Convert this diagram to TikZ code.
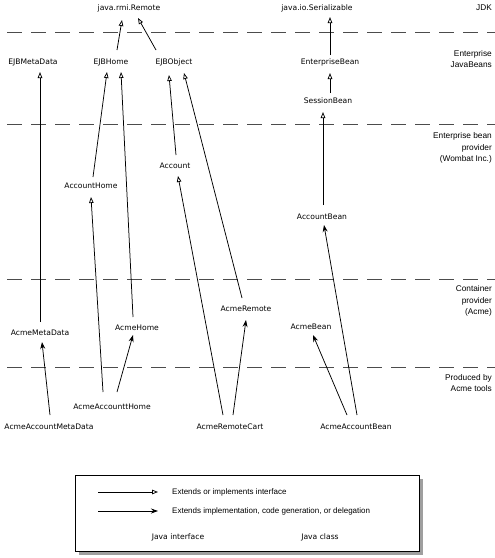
\documentclass[tikz,border=0pt]{standalone}
\usepackage{fontspec}
\setmainfont{Liberation Sans}
\newfontfamily\nodefont{DejaVu Sans}
\usetikzlibrary{arrows.meta}
\begin{document}
\begin{tikzpicture}[x=1pt,y=-1pt,
  cls/.style={font=\nodefont\fontsize{7.6}{9}\selectfont, inner sep=1pt},
  region/.style={font=\fontsize{8.3}{11.5}\selectfont, align=right, anchor=east, inner sep=0pt},
  legtext/.style={font=\fontsize{8}{10}\selectfont, anchor=west, inner sep=0pt},
  sep/.style={gray!60!black, line width=0.9pt, dash pattern=on 15pt off 9pt},
  iface/.style={line width=0.75pt, -{Triangle[open, length=6pt, width=4.5pt]}},
  impl/.style={line width=0.75pt, -{Stealth[length=7pt, width=5pt]}}]
\useasboundingbox (0,0) rectangle (495,558);
% separators
\coordinate (s1a) at (7,32);  \coordinate (s1b) at (495,32);
\coordinate (s2a) at (7,124); \coordinate (s2b) at (495,124);
\coordinate (s3a) at (7,279); \coordinate (s3b) at (495,279);
\coordinate (s4a) at (7,367); \coordinate (s4b) at (495,367);
\draw[sep] (s1a) -- (s1b);
\draw[sep] (s2a) -- (s2b);
\draw[sep] (s3a) -- (s3b);
\draw[sep] (s4a) -- (s4b);
% region labels
\node[region] (rjdk) at (492,8) {JDK};
\node[region] (rejb) at (492,59) {Enterprise\\JavaBeans};
\node[region] (rprov) at (492,148) {Enterprise bean\\provider\\(Wombat Inc.)};
\node[region] (rcont) at (492,301) {Container\\provider\\(Acme)};
\node[region] (rtools) at (492,383) {Produced by\\Acme tools};
% class nodes
\node[cls] (remote) at (129,8) {java.rmi.Remote};
\node[cls] (serial) at (317,8) {java.io.Serializable};
\node[cls] (ejbmeta) at (33,62) {EJBMetaData};
\node[cls] (ejbhome) at (111,62) {EJBHome};
\node[cls] (ejbobject) at (174,62) {EJBObject};
\node[cls] (entbean) at (330,62) {EnterpriseBean};
\node[cls] (sessbean) at (328,101) {SessionBean};
\node[cls] (accthome) at (91,186) {AccountHome};
\node[cls] (account) at (175,166) {Account};
\node[cls] (acctbean) at (322,217) {AccountBean};
\node[cls] (acmemeta) at (40,333) {AcmeMetaData};
\node[cls] (acmehome) at (137,328) {AcmeHome};
\node[cls] (acmeremote) at (246,309) {AcmeRemote};
\node[cls] (acmebean) at (311,327) {AcmeBean};
\node[cls] (acmeacchome) at (112,407) {AcmeAccounttHome};
\node[cls] (acmeaccmeta) at (49,427) {AcmeAccountMetaData};
\node[cls] (acmecart) at (230,427) {AcmeRemoteCart};
\node[cls] (acmeaccbean) at (356,427) {AcmeAccountBean};
% interface arrows
\draw[iface] ([xshift=6pt,yshift=12pt]ejbhome.center) -- ([xshift=-7pt,yshift=-12pt]remote.center);
\draw[iface] ([xshift=-18pt,yshift=12pt]ejbobject.center) -- ([xshift=9pt,yshift=-10pt]remote.center);
\draw[iface] ([yshift=7pt]entbean.center) -- ([xshift=13pt,yshift=-9pt]serial.center);
\draw[iface] ([xshift=2pt,yshift=8pt]sessbean.center) -- ([yshift=-11pt]entbean.center);
\draw[iface] ([xshift=1pt,yshift=12pt]acctbean.center) -- ([xshift=-5pt,yshift=-11pt]sessbean.center);
\draw[iface] ([yshift=11pt]acmemeta.center) -- ([xshift=7pt,yshift=-10pt]ejbmeta.center);
\draw[iface] ([xshift=2pt,yshift=9pt]accthome.center) -- ([xshift=-4pt,yshift=-10pt]ejbhome.center);
\draw[iface] ([xshift=-4pt,yshift=11pt]acmehome.center) -- ([xshift=10pt,yshift=-10pt]ejbhome.center);
\draw[iface] ([xshift=-9pt,yshift=15pt]acmeacchome.center) -- ([yshift=-11pt]accthome.center);
\draw[iface] ([xshift=1pt,yshift=11pt]account.center) -- ([xshift=-5pt,yshift=-13pt]ejbobject.center);
\draw[iface] ([xshift=-4pt,yshift=11pt]acmeremote.center) -- ([xshift=10pt,yshift=-11pt]ejbobject.center);
\draw[iface] ([xshift=-7pt,yshift=12pt]acmecart.center) -- ([xshift=3pt,yshift=-10pt]account.center);
% implementation arrows
\draw[impl] ([xshift=5pt,yshift=15pt]acmeacchome.center) -- ([xshift=-4pt,yshift=-7pt]acmehome.center);
\draw[impl] ([xshift=3pt,yshift=12pt]acmecart.center) -- ([yshift=-11pt]acmeremote.center);
\draw[impl] ([xshift=-9pt,yshift=12pt]acmeaccbean.center) -- ([xshift=2pt,yshift=-8pt]acmebean.center);
\draw[impl] ([xshift=1pt,yshift=12pt]acmeaccbean.center) -- ([xshift=2pt,yshift=-8pt]acctbean.center);
\draw[impl] ([xshift=1pt,yshift=12pt]acmeaccmeta.center) -- ([xshift=2pt,yshift=-9pt]acmemeta.center);
% legend
\fill[gray!75] (79,479) rectangle (423,555);
\node[draw, fill=white, line width=0.8pt, minimum width=344pt, minimum height=76pt, inner sep=0pt, anchor=north west] (legend) at (75,475) {};
\coordinate (l1a) at (98,492); \coordinate (l1b) at (158,492);
\coordinate (l2a) at (98,511); \coordinate (l2b) at (158,511);
\draw[iface] (l1a) -- (l1b);
\draw[impl] (l2a) -- (l2b);
\node[legtext] (t1) at (172,492) {Extends or implements interface};
\node[legtext] (t2) at (172,511) {Extends implementation, code generation, or delegation};
\node[cls] (jint) at (178,537) {Java interface};
\node[cls] (jcls) at (320,537) {Java class};
\end{tikzpicture}
\end{document}
